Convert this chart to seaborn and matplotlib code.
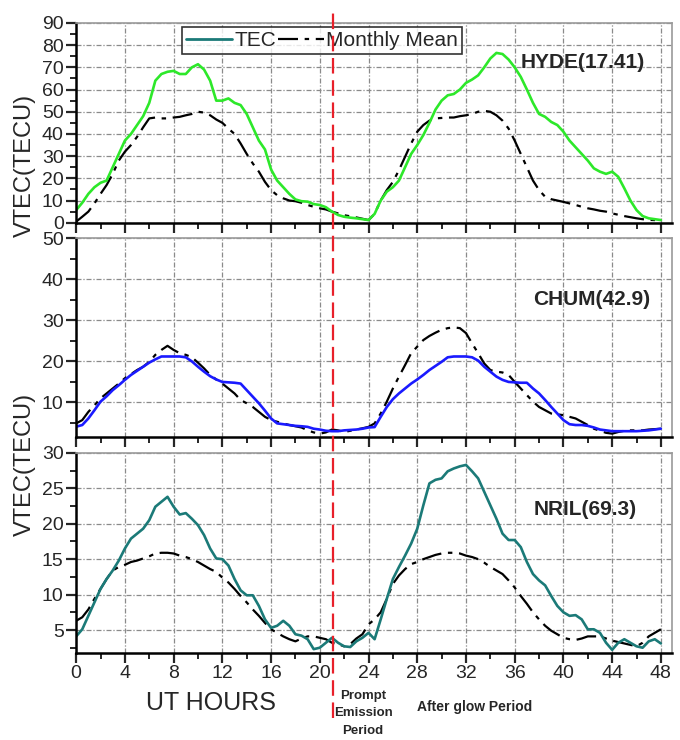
import numpy as np
import matplotlib
matplotlib.use("Agg")
import matplotlib.pyplot as plt
import seaborn as sns
from matplotlib import font_manager
from matplotlib.lines import Line2D
from matplotlib.ticker import MultipleLocator
import matplotlib.transforms as mtransforms

# ---- data (half-hour steps 0..48 UT) ----
hours = np.arange(0, 48.5, 0.5)

hyde_tec = [5.7, 9, 13, 16, 18, 19, 25, 31, 37, 40, 44, 48, 54, 64, 67, 68, 68.4, 67, 67, 70,
            71.4, 69, 64, 55, 55, 56, 54, 53, 49, 43, 37, 33, 24, 19, 16, 13, 10.5, 9.7, 9.5, 8.4,
            8, 7, 5, 3.5, 2.7, 2.3, 2, 1.6, 1.2, 4, 10, 14, 16, 19, 25, 31, 35, 39.5, 45, 51,
            55, 57.4, 58, 60, 63, 64.5, 66.4, 70, 74, 76.5, 76, 73.5, 70, 65.7, 60, 54, 49, 47.7, 45.4, 44,
            41, 37, 34, 31, 28, 24.5, 23, 22, 23, 20.7, 15.5, 10, 5.7, 3, 2, 1.6, 1.2]
hyde_mean = [0.5, 2.7, 5, 8.7, 13, 17, 22, 28, 32, 35, 38.7, 43, 47, 47.4, 47, 47, 47.4, 47.7, 48.4, 49,
             50, 49.6, 48.4, 46.5, 45, 42.4, 40, 35.7, 31, 26.7, 23, 18.4, 14.7, 12.4, 11, 10, 9.7, 9, 8, 7.2,
             6.5, 6, 5, 4.2, 3.4, 2.9, 2.4, 1.8, 1.2, 4, 10, 14.7, 18.4, 23.7, 29.7, 35.7, 41, 44, 46, 47,
             47.2, 47.4, 47.4, 48, 48.4, 49, 50, 50.4, 50, 48.4, 46, 42.4, 37, 31, 25, 19, 14.7, 11.7, 10.6, 10,
             9.4, 8.7, 8, 7.2, 6.5, 6, 5.4, 5, 4.2, 3.6, 3, 2.5, 2, 1.6, 1.3, 1.2, 1.2]

chum_tec = [4.1, 4.5, 6.1, 8.1, 10.2, 11.5, 13, 14.2, 15.5, 16.7, 17.7, 18.7, 19.7, 20.5, 21.2, 21.2, 21.2, 21.2, 21, 20,
            18.7, 17.5, 16.4, 15.6, 15, 14.9, 14.8, 14.6, 13, 11.4, 9.8, 8, 6.1, 4.9, 4.7, 4.5, 4.3, 4.2, 4.05, 3.6,
            3.4, 3.1, 3, 3, 3.2, 3.3, 3.4, 3.6, 3.9, 4, 6.5, 8.9, 10.8, 12.2, 13.4, 14.6, 15.6, 16.7, 17.9, 18.9,
            19.9, 21, 21.2, 21.2, 21.2, 21, 20.2, 18.7, 17.5, 16.3, 15.5, 15, 14.9, 14.8, 14.8, 13.4, 12.2, 10.6, 8.9, 7.3,
            5.7, 4.7, 4.5, 4.5, 4.3, 3.9, 3.4, 3.2, 3, 3, 3, 3, 3, 3.1, 3.2, 3.4, 3.6]
chum_mean = [4.9, 5.7, 7.7, 9.3, 11, 12.2, 13.4, 14.6, 15.9, 16.9, 17.9, 18.7, 19.9, 21.6, 22.8, 23.8, 22.8, 22, 21.6, 21,
             19.7, 18.3, 16.7, 15.6, 14.6, 13.4, 12.2, 10.6, 9.8, 8.9, 7.7, 6.5, 5.7, 5.3, 4.9, 4.5, 4.2, 3.9, 3.2, 2.7,
             2.4, 2.7, 3.4, 3.2, 2.8, 3.1, 3.4, 3.7, 4.05, 4.9, 7.3, 10.2, 13.4, 16.3, 19.1, 22, 23.6, 25.2, 26.2, 27,
             27.7, 28.1, 28.3, 28.1, 26.9, 24.4, 22, 19.5, 17.9, 17.5, 17.3, 16.7, 15, 13.4, 11.8, 10.2, 8.9, 8.1, 7.3, 7.1,
             6.9, 6.5, 6.1, 5.3, 4.5, 3.6, 3.1, 2.6, 2.4, 2.8, 3.1, 3.2, 3.2, 3.2, 3.4, 3.5, 3.6]

nril_tec = [4.1, 5.1, 7, 8.9, 10.8, 12.2, 13.4, 14.8, 16.5, 17.9, 18.6, 19.3, 20.5, 22.4, 23.1, 23.8, 22.4, 21.3, 21.5, 20.7,
            19.8, 18.4, 16.5, 15.1, 15, 14.1, 12.2, 10.6, 9.9, 9.9, 8.4, 6.5, 5.3, 5.6, 6.3, 5.6, 4.4, 4.2, 3.7, 2.3,
            2.5, 3.2, 3.9, 3.2, 2.7, 2.6, 3.4, 3.9, 4.6, 3.7, 6.5, 9.4, 12.2, 13.9, 15.5, 17.2, 19.3, 22.6, 25.7, 26.2,
            26.4, 27.4, 27.8, 28.1, 28.3, 27.4, 26.4, 24.5, 22.6, 20.7, 18.6, 17.7, 17.7, 16.7, 14.6, 12.9, 12, 11.3, 9.8, 8.4,
            7.5, 7, 7.1, 6.5, 5.1, 5.1, 4.6, 3.2, 2.2, 3.2, 3.7, 3.2, 2.7, 2.5, 3.4, 3.7, 3.1]
nril_mean = [6.3, 6.8, 7.9, 9.4, 10.8, 12.2, 13.4, 13.9, 14.2, 14.6, 14.8, 15.1, 15.4, 15.8, 15.9, 15.9, 15.8, 15.5, 15.3, 15,
             14.6, 14.1, 13.6, 13.2, 12.4, 11.7, 10.8, 9.8, 8.9, 7.9, 7, 6, 5.1, 4.6, 4.1, 3.7, 3.4, 3.8, 4.1, 4.1,
             3.9, 3.7, 3.2, 3, 2.7, 3, 3.8, 4.4, 5.8, 6.5, 7.5, 9.4, 11.5, 12.7, 13.6, 14.3, 14.6, 15, 15.3, 15.6,
             15.8, 15.9, 15.9, 15.8, 15.5, 15.3, 15, 14.5, 13.9, 13.4, 12.9, 12, 11, 9.8, 8.7, 7.5, 6.5, 5.6, 4.9, 4.4,
             3.9, 3.7, 3.6, 3.8, 4.1, 4.1, 4.1, 3.8, 3.5, 3.3, 3.1, 2.9, 2.7, 3.2, 4.1, 4.6, 5.1]

stations = ["HYDE(17.41)", "CHUM(42.9)", "NRIL(69.3)"]
tec_series = [hyde_tec, chum_tec, nril_tec]
mean_series = [hyde_mean, chum_mean, nril_mean]
tec_colors = ["#2de82a", "#1a1aff", "#1b7a78"]
event_hour = 21.1

sns.set_style("ticks")
names = {f.name for f in font_manager.fontManager.ttflist}
narrow = "Liberation Sans Narrow" if "Liberation Sans Narrow" in names else "Liberation Sans"
plt.rcParams["font.family"] = [narrow, "DejaVu Sans"]

fig = plt.figure(figsize=(6.8, 7.4), dpi=100)
ax_pos = [[0.112, 0.699, 0.876, 0.270],
          [0.112, 0.409, 0.876, 0.269],
          [0.112, 0.118, 0.876, 0.270]]
ylims = [(0, 90), (1.5, 50), (1.8, 30)]
ymajor = [10, 10, 5]
yminor = [5, 5, 2.5]
label_pos = [(0.85, 0.80), (0.866, 0.69), (0.854, 0.715)]

mean_dash = (0, (9, 3, 2, 3))
grid_style = dict(color="#8a8a8a", linewidth=0.9, linestyle=(0, (4, 1.5, 1, 1.5)))

axes = []
for i in range(3):
    ax = fig.add_axes(ax_pos[i])
    sns.lineplot(x=hours, y=mean_series[i], ax=ax, color="black", linewidth=1.6, linestyle=mean_dash)
    sns.lineplot(x=hours, y=tec_series[i], ax=ax, color=tec_colors[i], linewidth=1.9)
    ax.set_xlim(0, 48.9)
    ax.set_ylim(*ylims[i])
    ax.xaxis.set_major_locator(MultipleLocator(4))
    ax.xaxis.set_minor_locator(MultipleLocator(2))
    ax.yaxis.set_major_locator(MultipleLocator(ymajor[i]))
    ax.yaxis.set_minor_locator(MultipleLocator(yminor[i]))
    ax.grid(True, which="major", **grid_style)
    ax.tick_params(which="major", direction="out", length=7, width=1.6, labelsize=14, pad=2)
    ax.tick_params(which="minor", direction="out", length=4, width=1.4)
    for s in ["left", "bottom"]:
        ax.spines[s].set_linewidth(1.8)
        ax.spines[s].set_color("black")
    for s in ["top", "right"]:
        ax.spines[s].set_linewidth(1.2)
        ax.spines[s].set_color("#9a9a9a")
    ax.set_xlabel("")
    ax.set_ylabel("")
    if i < 2:
        ax.tick_params(axis="x", labelbottom=False)
    ax.text(label_pos[i][0], label_pos[i][1], stations[i], transform=ax.transAxes,
            ha="center", va="center", fontsize=15, fontweight="bold")
    axes.append(ax)

# legend in top panel
handles = [Line2D([0], [0], color=tec_colors[2], linewidth=2),
           Line2D([0], [0], color="black", linewidth=1.6, linestyle=mean_dash)]
leg = axes[0].legend(handles, ["TEC", "Monthly Mean"], ncol=2, loc="upper left",
                     bbox_to_anchor=(0.178, 0.98), fontsize=15, frameon=True, fancybox=False,
                     handlelength=2.2, handletextpad=0.1, columnspacing=0.1,
                     borderpad=0.2, borderaxespad=0)
leg.get_frame().set_edgecolor("black")
leg.get_frame().set_linewidth(1.2)

# red event line spanning all panels
trans = mtransforms.blended_transform_factory(axes[2].transData, fig.transFigure)
fig.add_artist(Line2D([event_hour, event_hour], [0.03, 0.989], transform=trans,
                      color="#e8202a", linewidth=1.6, linestyle=(0, (7, 3))))

fig.text(0.037, 0.777, "VTEC(TECU)", rotation=90, ha="center", va="center", fontsize=17)
fig.text(0.037, 0.372, "VTEC(TECU)", rotation=90, ha="center", va="center", fontsize=17)
fig.text(0.31, 0.05, "UT HOURS", ha="center", va="center", fontsize=18)
fig.text(0.534, 0.036, "Prompt\nEmission\nPeriod", ha="center", va="center",
         fontsize=9.5, fontweight="bold", linespacing=1.6)
fig.text(0.698, 0.045, "After glow Period", ha="center", va="center",
         fontsize=10, fontweight="bold")

fig.savefig("out.png", dpi=100)
